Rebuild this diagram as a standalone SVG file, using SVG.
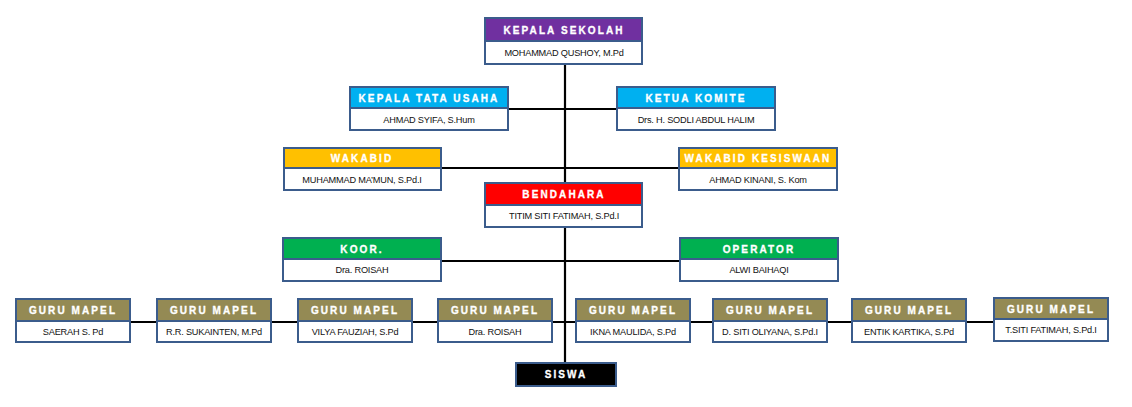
<svg xmlns="http://www.w3.org/2000/svg" width="1132" height="407" viewBox="0 0 1132 407">
<style>
.box{fill:#fff;stroke:#3B5C8C;stroke-width:2}
.hd{stroke:#3B5C8C;stroke-width:2}
.ht{font-family:"Liberation Sans",Arial,sans-serif;font-weight:bold;font-size:10px;fill:#fff;letter-spacing:2.1px;text-anchor:middle;stroke:#fff;stroke-width:0.3}
.bt{font-family:"Liberation Sans",Arial,sans-serif;font-size:9.2px;fill:#111;text-anchor:middle;letter-spacing:-0.2px}
.ln{stroke:#000;stroke-width:2.2;fill:none}
</style>
<rect width="1132" height="407" fill="#fff"/>
<g id="connectors">
<line class="ln" x1="565" y1="64" x2="565" y2="363"/>
<line class="ln" x1="508" y1="109" x2="617" y2="109"/>
<line class="ln" x1="441" y1="168" x2="679" y2="168"/>
<line class="ln" x1="441" y1="261" x2="680" y2="261"/>
<line class="ln" x1="130" y1="322" x2="994" y2="322"/>
</g>
<g id="kepala-sekolah">
<rect class="box" x="485" y="18" width="157" height="46"/>
<rect class="hd" x="485" y="18" width="157" height="23" fill="#7030A0"/>
<text class="ht" x="564" y="33.5">KEPALA SEKOLAH</text>
<text class="bt" x="564" y="56">MOHAMMAD QUSHOY, M.Pd</text>
</g>
<g id="kepala-tata-usaha">
<rect class="box" x="350" y="87" width="158" height="43"/>
<rect class="hd" x="350" y="87" width="158" height="21" fill="#00B0F0"/>
<text class="ht" x="429" y="101.5">KEPALA TATA USAHA</text>
<text class="bt" x="429" y="123">AHMAD SYIFA, S.Hum</text>
</g>
<g id="ketua-komite">
<rect class="box" x="617" y="87" width="158" height="43"/>
<rect class="hd" x="617" y="87" width="158" height="21" fill="#00B0F0"/>
<text class="ht" x="696" y="101.5">KETUA KOMITE</text>
<text class="bt" x="696" y="123">Drs. H. SODLI ABDUL HALIM</text>
</g>
<g id="wakabid">
<rect class="box" x="284" y="148" width="157" height="42"/>
<rect class="hd" x="284" y="148" width="157" height="20" fill="#FFC000"/>
<text class="ht" x="362" y="161.5">WAKABID</text>
<text class="bt" x="362" y="183">MUHAMMAD MA’MUN, S.Pd.I</text>
</g>
<g id="wakabid-kesiswaan">
<rect class="box" x="679" y="148" width="158" height="42"/>
<rect class="hd" x="679" y="148" width="158" height="20" fill="#FFC000"/>
<text class="ht" x="758" y="161.5">WAKABID KESISWAAN</text>
<text class="bt" x="758" y="183">AHMAD KINANI, S. Kom</text>
</g>
<g id="bendahara">
<rect class="box" x="485" y="183" width="157" height="44"/>
<rect class="hd" x="485" y="183" width="157" height="22" fill="#FF0000"/>
<text class="ht" x="564" y="197.5">BENDAHARA</text>
<text class="bt" x="564" y="219">TITIM SITI FATIMAH, S.Pd.I</text>
</g>
<g id="koor">
<rect class="box" x="283" y="238" width="158" height="43"/>
<rect class="hd" x="283" y="238" width="158" height="21" fill="#00B050"/>
<text class="ht" x="362" y="252.5">KOOR.</text>
<text class="bt" x="362" y="273">Dra. ROISAH</text>
</g>
<g id="operator">
<rect class="box" x="680" y="238" width="158" height="43"/>
<rect class="hd" x="680" y="238" width="158" height="21" fill="#00B050"/>
<text class="ht" x="759" y="252.5">OPERATOR</text>
<text class="bt" x="759" y="273">ALWI BAIHAQI</text>
</g>
<g id="guru-1">
<rect class="box" x="16" y="299" width="114" height="43"/>
<rect class="hd" x="16" y="299" width="114" height="22" fill="#948A54"/>
<text class="ht" x="73" y="313.5">GURU MAPEL</text>
<text class="bt" x="73" y="335">SAERAH S. Pd</text>
</g>
<g id="guru-2">
<rect class="box" x="157" y="299" width="114" height="43"/>
<rect class="hd" x="157" y="299" width="114" height="22" fill="#948A54"/>
<text class="ht" x="214" y="313.5">GURU MAPEL</text>
<text class="bt" x="214" y="335">R.R. SUKAINTEN, M.Pd</text>
</g>
<g id="guru-3">
<rect class="box" x="298" y="299" width="114" height="43"/>
<rect class="hd" x="298" y="299" width="114" height="22" fill="#948A54"/>
<text class="ht" x="355" y="313.5">GURU MAPEL</text>
<text class="bt" x="355" y="335">VILYA FAUZIAH, S.Pd</text>
</g>
<g id="guru-4">
<rect class="box" x="438" y="299" width="114" height="43"/>
<rect class="hd" x="438" y="299" width="114" height="22" fill="#948A54"/>
<text class="ht" x="495" y="313.5">GURU MAPEL</text>
<text class="bt" x="495" y="335">Dra. ROISAH</text>
</g>
<g id="guru-5">
<rect class="box" x="576" y="299" width="114" height="43"/>
<rect class="hd" x="576" y="299" width="114" height="22" fill="#948A54"/>
<text class="ht" x="633" y="313.5">GURU MAPEL</text>
<text class="bt" x="633" y="335">IKNA MAULIDA, S.Pd</text>
</g>
<g id="guru-6">
<rect class="box" x="713" y="299" width="114" height="43"/>
<rect class="hd" x="713" y="299" width="114" height="22" fill="#948A54"/>
<text class="ht" x="770" y="313.5">GURU MAPEL</text>
<text class="bt" x="770" y="335">D. SITI OLIYANA, S.Pd.I</text>
</g>
<g id="guru-7">
<rect class="box" x="852" y="299" width="114" height="43"/>
<rect class="hd" x="852" y="299" width="114" height="22" fill="#948A54"/>
<text class="ht" x="909" y="313.5">GURU MAPEL</text>
<text class="bt" x="909" y="335">ENTIK  KARTIKA, S.Pd</text>
</g>
<g id="guru-8">
<rect class="box" x="994" y="298" width="114" height="43"/>
<rect class="hd" x="994" y="298" width="114" height="21" fill="#948A54"/>
<text class="ht" x="1051" y="312.5">GURU MAPEL</text>
<text class="bt" x="1051" y="333">T.SITI FATIMAH, S.Pd.I</text>
</g>
<g id="siswa">
<rect x="516" y="363" width="100" height="23" fill="#000" stroke="#3B5C8C" stroke-width="2"/>
<text class="ht" x="566" y="378">SISWA</text>
</g>
</svg>
